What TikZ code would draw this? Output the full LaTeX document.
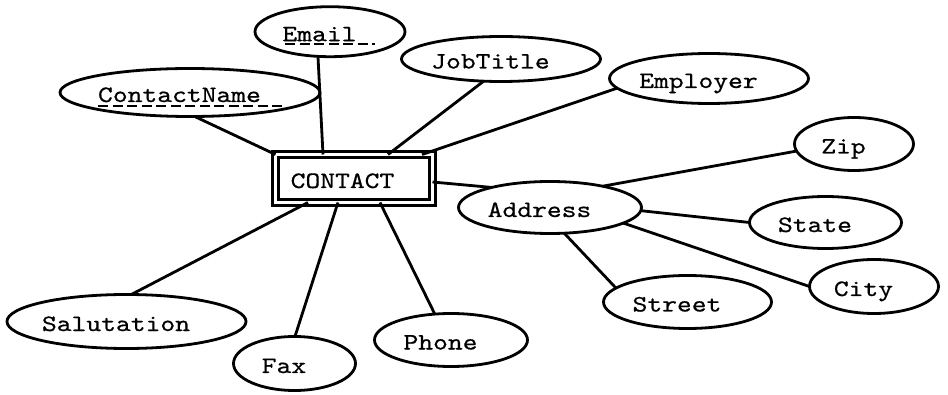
\documentclass[tikz,border=0pt]{standalone}
\usepackage{fontspec}
\newfontfamily\erfont{lmmono10-regular}[Extension=.otf, FakeStretch=1.2, FakeBold=0.6]
\usetikzlibrary{shapes.geometric}
\tikzset{
  attr/.style={ellipse, draw, line width=2.8pt, inner sep=0pt, outer sep=0pt,
    font=\erfont\fontsize{23.5}{25}\selectfont, text height=19pt, text depth=0pt,
    execute at end node={\kern21pt}},
  conn/.style={line width=2.8pt},
  keyline/.style={line width=2pt, dash pattern=on 10pt off 4.5pt},
  entitybox/.style={rectangle, draw, double, line width=3pt, double distance=3pt,
    minimum width=157pt, minimum height=48pt, inner sep=0pt, outer sep=0pt,
    font=\erfont\fontsize{23.5}{25}\selectfont, text height=19pt, text depth=0pt,
    execute at end node={\kern23pt}}
}
\begin{document}
\begin{tikzpicture}[x=1pt,y=-1pt]
\useasboundingbox (0,0) rectangle (948,395);
\fill[white] (0,0) rectangle (948,395);
% entity
\node[entitybox] (box) at (354,178.5) {CONTACT};
% attributes
\node[attr, minimum width=150pt, minimum height=50pt] (email) at (330,31.7) {Email};
\node[attr, minimum width=243pt, minimum height=48pt] (cname) at (190,92.5) {ContactName};
\node[attr, minimum width=199pt, minimum height=45pt] (job) at (501,59) {JobTitle};
\node[attr, minimum width=199pt, minimum height=50pt] (emp) at (709,78.5) {Employer};
\node[attr, minimum width=119pt, minimum height=53pt] (zip) at (854,144) {Zip};
\node[attr, minimum width=183pt, minimum height=52pt] (addr) at (550,207.5) {Address};
\node[attr, minimum width=152pt, minimum height=52pt] (state) at (825.5,222.5) {State};
\node[attr, minimum width=129pt, minimum height=54pt] (city) at (874,286.5) {City};
\node[attr, minimum width=168pt, minimum height=53pt] (street) at (687.5,302) {Street};
\node[attr, minimum width=153pt, minimum height=53pt] (phone) at (451,340) {Phone};
\node[attr, minimum width=122pt, minimum height=54pt] (fax) at (294.5,363.5) {Fax};
\node[attr, minimum width=230pt, minimum height=54pt] (sal) at (126.5,321.5) {Salutation};
% key underlines
\draw[keyline] (285,44) -- (375,44);
\draw[keyline] (98,106) -- (283,106);
% connectors
\draw[conn] (cname.-79) -- (box.north west);
\draw[conn] (email.-116) -- ([xshift=-31pt]box.north);
\draw[conn] (job.-128.4) -- ([xshift=34pt]box.north);
\draw[conn] (emp.-174.3) -- ([xshift=68pt]box.north);
\draw[conn] ([yshift=-3.5pt]box.east) -- (addr.161.1);
\draw[conn] (addr.22.2) -- (zip.187.5);
\draw[conn] (addr.-2) -- (state.180);
\draw[conn] (addr.-12.3) -- (city.180);
\draw[conn] (addr.-61.4) -- (street.169.8);
\draw[conn] ([xshift=-46pt]box.south) -- (sal.80.7);
\draw[conn] ([xshift=-16pt]box.south) -- (fax.89);
\draw[conn] ([xshift=26pt]box.south) -- (phone.122.3);
\end{tikzpicture}
\end{document}
